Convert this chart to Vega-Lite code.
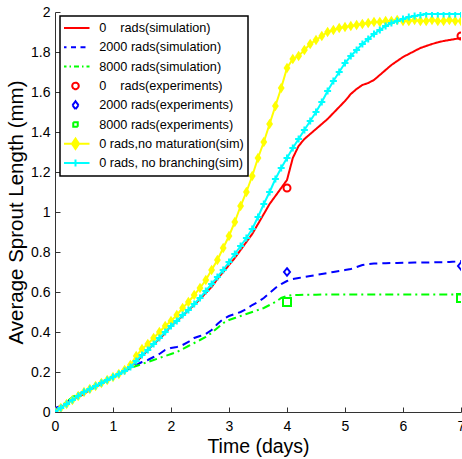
{
  "$schema": "https://vega.github.io/schema/vega-lite/v6.json",
  "width": 406,
  "height": 400,
  "autosize": {"type": "none"},
  "padding": {"left": 55, "top": 12, "right": 1, "bottom": 47},
  "background": "white",
  "config": {
    "view": {"stroke": null},
    "axis": {
      "grid": false,
      "domainColor": "#333333",
      "tickColor": "#333333",
      "labelColor": "#000000",
      "titleColor": "#000000",
      "titleFontWeight": "normal",
      "labelFont": "Liberation Sans Narrow, Liberation Sans",
      "labelFontSize": 14,
      "labelFlush": false,
      "labelOverlap": false,
      "tickSize": -5
    }
  },
  "data": {"values": [
    {"series":"0 rads(simulation)","day":0,"mm":0},{"series":"0 rads(simulation)","day":0.1,"mm":0.02},{"series":"0 rads(simulation)","day":0.2,"mm":0.045},{"series":"0 rads(simulation)","day":0.3,"mm":0.06},{"series":"0 rads(simulation)","day":0.4,"mm":0.075},{"series":"0 rads(simulation)","day":0.5,"mm":0.09},{"series":"0 rads(simulation)","day":0.6,"mm":0.11},{"series":"0 rads(simulation)","day":0.7,"mm":0.125},{"series":"0 rads(simulation)","day":0.8,"mm":0.14},{"series":"0 rads(simulation)","day":0.9,"mm":0.16},{"series":"0 rads(simulation)","day":1,"mm":0.175},
    {"series":"0 rads(simulation)","day":1.1,"mm":0.19},{"series":"0 rads(simulation)","day":1.2,"mm":0.205},{"series":"0 rads(simulation)","day":1.3,"mm":0.225},{"series":"0 rads(simulation)","day":1.4,"mm":0.25},{"series":"0 rads(simulation)","day":1.5,"mm":0.28},{"series":"0 rads(simulation)","day":1.6,"mm":0.31},{"series":"0 rads(simulation)","day":1.7,"mm":0.34},{"series":"0 rads(simulation)","day":1.8,"mm":0.365},{"series":"0 rads(simulation)","day":1.9,"mm":0.395},{"series":"0 rads(simulation)","day":2,"mm":0.43},
    {"series":"0 rads(simulation)","day":2.1,"mm":0.455},{"series":"0 rads(simulation)","day":2.2,"mm":0.48},{"series":"0 rads(simulation)","day":2.3,"mm":0.51},{"series":"0 rads(simulation)","day":2.4,"mm":0.535},{"series":"0 rads(simulation)","day":2.5,"mm":0.565},{"series":"0 rads(simulation)","day":2.6,"mm":0.595},{"series":"0 rads(simulation)","day":2.7,"mm":0.625},{"series":"0 rads(simulation)","day":2.8,"mm":0.665},{"series":"0 rads(simulation)","day":2.9,"mm":0.7},{"series":"0 rads(simulation)","day":3,"mm":0.735},
    {"series":"0 rads(simulation)","day":3.1,"mm":0.77},{"series":"0 rads(simulation)","day":3.2,"mm":0.81},{"series":"0 rads(simulation)","day":3.3,"mm":0.85},{"series":"0 rads(simulation)","day":3.4,"mm":0.89},{"series":"0 rads(simulation)","day":3.5,"mm":0.94},{"series":"0 rads(simulation)","day":3.6,"mm":0.99},{"series":"0 rads(simulation)","day":3.7,"mm":1.04},{"series":"0 rads(simulation)","day":3.8,"mm":1.08},{"series":"0 rads(simulation)","day":3.9,"mm":1.12},{"series":"0 rads(simulation)","day":4,"mm":1.16},
    {"series":"0 rads(simulation)","day":4.1,"mm":1.27},{"series":"0 rads(simulation)","day":4.2,"mm":1.33},{"series":"0 rads(simulation)","day":4.3,"mm":1.365},{"series":"0 rads(simulation)","day":4.4,"mm":1.39},{"series":"0 rads(simulation)","day":4.5,"mm":1.415},{"series":"0 rads(simulation)","day":4.6,"mm":1.44},{"series":"0 rads(simulation)","day":4.7,"mm":1.465},{"series":"0 rads(simulation)","day":4.8,"mm":1.495},{"series":"0 rads(simulation)","day":4.9,"mm":1.525},{"series":"0 rads(simulation)","day":5,"mm":1.555},
    {"series":"0 rads(simulation)","day":5.1,"mm":1.59},{"series":"0 rads(simulation)","day":5.2,"mm":1.615},{"series":"0 rads(simulation)","day":5.3,"mm":1.635},{"series":"0 rads(simulation)","day":5.4,"mm":1.645},{"series":"0 rads(simulation)","day":5.5,"mm":1.66},{"series":"0 rads(simulation)","day":5.6,"mm":1.685},{"series":"0 rads(simulation)","day":5.7,"mm":1.71},{"series":"0 rads(simulation)","day":5.8,"mm":1.735},{"series":"0 rads(simulation)","day":5.9,"mm":1.755},{"series":"0 rads(simulation)","day":6,"mm":1.775},
    {"series":"0 rads(simulation)","day":6.1,"mm":1.79},{"series":"0 rads(simulation)","day":6.2,"mm":1.805},{"series":"0 rads(simulation)","day":6.3,"mm":1.82},{"series":"0 rads(simulation)","day":6.4,"mm":1.83},{"series":"0 rads(simulation)","day":6.5,"mm":1.84},{"series":"0 rads(simulation)","day":6.6,"mm":1.848},{"series":"0 rads(simulation)","day":6.7,"mm":1.855},{"series":"0 rads(simulation)","day":6.8,"mm":1.86},{"series":"0 rads(simulation)","day":6.9,"mm":1.865},{"series":"0 rads(simulation)","day":7,"mm":1.87},

    {"series":"2000 rads(simulation)","day":0,"mm":0.02},{"series":"2000 rads(simulation)","day":0.1,"mm":0.03},{"series":"2000 rads(simulation)","day":0.2,"mm":0.05},{"series":"2000 rads(simulation)","day":0.3,"mm":0.07},{"series":"2000 rads(simulation)","day":0.4,"mm":0.085},{"series":"2000 rads(simulation)","day":0.5,"mm":0.1},{"series":"2000 rads(simulation)","day":0.6,"mm":0.115},{"series":"2000 rads(simulation)","day":0.7,"mm":0.13},{"series":"2000 rads(simulation)","day":0.8,"mm":0.145},{"series":"2000 rads(simulation)","day":0.9,"mm":0.16},{"series":"2000 rads(simulation)","day":1,"mm":0.175},
    {"series":"2000 rads(simulation)","day":1.1,"mm":0.19},{"series":"2000 rads(simulation)","day":1.2,"mm":0.205},{"series":"2000 rads(simulation)","day":1.3,"mm":0.22},{"series":"2000 rads(simulation)","day":1.4,"mm":0.235},{"series":"2000 rads(simulation)","day":1.5,"mm":0.25},{"series":"2000 rads(simulation)","day":1.6,"mm":0.26},{"series":"2000 rads(simulation)","day":1.7,"mm":0.275},{"series":"2000 rads(simulation)","day":1.8,"mm":0.29},{"series":"2000 rads(simulation)","day":1.9,"mm":0.31},{"series":"2000 rads(simulation)","day":2,"mm":0.32},
    {"series":"2000 rads(simulation)","day":2.1,"mm":0.325},{"series":"2000 rads(simulation)","day":2.2,"mm":0.335},{"series":"2000 rads(simulation)","day":2.3,"mm":0.35},{"series":"2000 rads(simulation)","day":2.4,"mm":0.37},{"series":"2000 rads(simulation)","day":2.5,"mm":0.38},{"series":"2000 rads(simulation)","day":2.6,"mm":0.39},{"series":"2000 rads(simulation)","day":2.7,"mm":0.41},{"series":"2000 rads(simulation)","day":2.8,"mm":0.44},{"series":"2000 rads(simulation)","day":2.9,"mm":0.465},{"series":"2000 rads(simulation)","day":3,"mm":0.48},
    {"series":"2000 rads(simulation)","day":3.1,"mm":0.49},{"series":"2000 rads(simulation)","day":3.2,"mm":0.5},{"series":"2000 rads(simulation)","day":3.3,"mm":0.515},{"series":"2000 rads(simulation)","day":3.4,"mm":0.535},{"series":"2000 rads(simulation)","day":3.5,"mm":0.55},{"series":"2000 rads(simulation)","day":3.6,"mm":0.57},{"series":"2000 rads(simulation)","day":3.7,"mm":0.595},{"series":"2000 rads(simulation)","day":3.8,"mm":0.62},{"series":"2000 rads(simulation)","day":3.9,"mm":0.64},{"series":"2000 rads(simulation)","day":4,"mm":0.655},
    {"series":"2000 rads(simulation)","day":4.1,"mm":0.665},{"series":"2000 rads(simulation)","day":4.2,"mm":0.67},{"series":"2000 rads(simulation)","day":4.3,"mm":0.675},{"series":"2000 rads(simulation)","day":4.4,"mm":0.68},{"series":"2000 rads(simulation)","day":4.5,"mm":0.685},{"series":"2000 rads(simulation)","day":4.6,"mm":0.69},{"series":"2000 rads(simulation)","day":4.7,"mm":0.695},{"series":"2000 rads(simulation)","day":4.8,"mm":0.7},{"series":"2000 rads(simulation)","day":4.9,"mm":0.705},{"series":"2000 rads(simulation)","day":5,"mm":0.71},
    {"series":"2000 rads(simulation)","day":5.1,"mm":0.715},{"series":"2000 rads(simulation)","day":5.2,"mm":0.725},{"series":"2000 rads(simulation)","day":5.3,"mm":0.735},{"series":"2000 rads(simulation)","day":5.4,"mm":0.74},{"series":"2000 rads(simulation)","day":5.5,"mm":0.742},{"series":"2000 rads(simulation)","day":5.6,"mm":0.743},{"series":"2000 rads(simulation)","day":5.7,"mm":0.744},{"series":"2000 rads(simulation)","day":5.8,"mm":0.745},{"series":"2000 rads(simulation)","day":5.9,"mm":0.745},{"series":"2000 rads(simulation)","day":6,"mm":0.746},
    {"series":"2000 rads(simulation)","day":6.1,"mm":0.746},{"series":"2000 rads(simulation)","day":6.2,"mm":0.747},{"series":"2000 rads(simulation)","day":6.3,"mm":0.747},{"series":"2000 rads(simulation)","day":6.4,"mm":0.748},{"series":"2000 rads(simulation)","day":6.5,"mm":0.748},{"series":"2000 rads(simulation)","day":6.6,"mm":0.749},{"series":"2000 rads(simulation)","day":6.7,"mm":0.749},{"series":"2000 rads(simulation)","day":6.8,"mm":0.75},{"series":"2000 rads(simulation)","day":6.9,"mm":0.752},{"series":"2000 rads(simulation)","day":7,"mm":0.755},

    {"series":"8000 rads(simulation)","day":0,"mm":0},{"series":"8000 rads(simulation)","day":0.1,"mm":0.03},{"series":"8000 rads(simulation)","day":0.2,"mm":0.05},{"series":"8000 rads(simulation)","day":0.3,"mm":0.075},{"series":"8000 rads(simulation)","day":0.4,"mm":0.09},{"series":"8000 rads(simulation)","day":0.5,"mm":0.1},{"series":"8000 rads(simulation)","day":0.6,"mm":0.115},{"series":"8000 rads(simulation)","day":0.7,"mm":0.13},{"series":"8000 rads(simulation)","day":0.8,"mm":0.145},{"series":"8000 rads(simulation)","day":0.9,"mm":0.16},{"series":"8000 rads(simulation)","day":1,"mm":0.175},
    {"series":"8000 rads(simulation)","day":1.1,"mm":0.19},{"series":"8000 rads(simulation)","day":1.2,"mm":0.205},{"series":"8000 rads(simulation)","day":1.3,"mm":0.22},{"series":"8000 rads(simulation)","day":1.4,"mm":0.23},{"series":"8000 rads(simulation)","day":1.5,"mm":0.24},{"series":"8000 rads(simulation)","day":1.6,"mm":0.25},{"series":"8000 rads(simulation)","day":1.7,"mm":0.26},{"series":"8000 rads(simulation)","day":1.8,"mm":0.27},{"series":"8000 rads(simulation)","day":1.9,"mm":0.28},{"series":"8000 rads(simulation)","day":2,"mm":0.29},
    {"series":"8000 rads(simulation)","day":2.1,"mm":0.3},{"series":"8000 rads(simulation)","day":2.2,"mm":0.315},{"series":"8000 rads(simulation)","day":2.3,"mm":0.33},{"series":"8000 rads(simulation)","day":2.4,"mm":0.345},{"series":"8000 rads(simulation)","day":2.5,"mm":0.36},{"series":"8000 rads(simulation)","day":2.6,"mm":0.375},{"series":"8000 rads(simulation)","day":2.7,"mm":0.395},{"series":"8000 rads(simulation)","day":2.8,"mm":0.42},{"series":"8000 rads(simulation)","day":2.9,"mm":0.445},{"series":"8000 rads(simulation)","day":3,"mm":0.46},
    {"series":"8000 rads(simulation)","day":3.1,"mm":0.47},{"series":"8000 rads(simulation)","day":3.2,"mm":0.48},{"series":"8000 rads(simulation)","day":3.3,"mm":0.49},{"series":"8000 rads(simulation)","day":3.4,"mm":0.5},{"series":"8000 rads(simulation)","day":3.5,"mm":0.51},{"series":"8000 rads(simulation)","day":3.6,"mm":0.52},{"series":"8000 rads(simulation)","day":3.7,"mm":0.535},{"series":"8000 rads(simulation)","day":3.8,"mm":0.55},{"series":"8000 rads(simulation)","day":3.9,"mm":0.57},{"series":"8000 rads(simulation)","day":4,"mm":0.58},
    {"series":"8000 rads(simulation)","day":4.1,"mm":0.585},{"series":"8000 rads(simulation)","day":4.2,"mm":0.585},{"series":"8000 rads(simulation)","day":4.3,"mm":0.586},{"series":"8000 rads(simulation)","day":4.4,"mm":0.586},{"series":"8000 rads(simulation)","day":4.5,"mm":0.586},{"series":"8000 rads(simulation)","day":4.6,"mm":0.587},{"series":"8000 rads(simulation)","day":4.7,"mm":0.587},{"series":"8000 rads(simulation)","day":4.8,"mm":0.587},{"series":"8000 rads(simulation)","day":4.9,"mm":0.587},{"series":"8000 rads(simulation)","day":5,"mm":0.588},
    {"series":"8000 rads(simulation)","day":5.1,"mm":0.588},{"series":"8000 rads(simulation)","day":5.2,"mm":0.588},{"series":"8000 rads(simulation)","day":5.3,"mm":0.588},{"series":"8000 rads(simulation)","day":5.4,"mm":0.588},{"series":"8000 rads(simulation)","day":5.5,"mm":0.588},{"series":"8000 rads(simulation)","day":5.6,"mm":0.588},{"series":"8000 rads(simulation)","day":5.7,"mm":0.588},{"series":"8000 rads(simulation)","day":5.8,"mm":0.588},{"series":"8000 rads(simulation)","day":5.9,"mm":0.588},{"series":"8000 rads(simulation)","day":6,"mm":0.588},
    {"series":"8000 rads(simulation)","day":6.1,"mm":0.588},{"series":"8000 rads(simulation)","day":6.2,"mm":0.588},{"series":"8000 rads(simulation)","day":6.3,"mm":0.588},{"series":"8000 rads(simulation)","day":6.4,"mm":0.588},{"series":"8000 rads(simulation)","day":6.5,"mm":0.588},{"series":"8000 rads(simulation)","day":6.6,"mm":0.588},{"series":"8000 rads(simulation)","day":6.7,"mm":0.588},{"series":"8000 rads(simulation)","day":6.8,"mm":0.588},{"series":"8000 rads(simulation)","day":6.9,"mm":0.588},{"series":"8000 rads(simulation)","day":7,"mm":0.588},

    {"series":"0 rads(experiments)","day":4,"mm":1.12},{"series":"0 rads(experiments)","day":7,"mm":1.88},
    {"series":"2000 rads(experiments)","day":4,"mm":0.7},{"series":"2000 rads(experiments)","day":7,"mm":0.73},
    {"series":"8000 rads(experiments)","day":4,"mm":0.55},{"series":"8000 rads(experiments)","day":7,"mm":0.57},

    {"series":"0 rads,no maturation(sim)","day":0,"mm":0},{"series":"0 rads,no maturation(sim)","day":0.1,"mm":0.02},{"series":"0 rads,no maturation(sim)","day":0.2,"mm":0.04},{"series":"0 rads,no maturation(sim)","day":0.3,"mm":0.06},{"series":"0 rads,no maturation(sim)","day":0.4,"mm":0.08},{"series":"0 rads,no maturation(sim)","day":0.5,"mm":0.1},{"series":"0 rads,no maturation(sim)","day":0.6,"mm":0.115},{"series":"0 rads,no maturation(sim)","day":0.7,"mm":0.13},{"series":"0 rads,no maturation(sim)","day":0.8,"mm":0.145},{"series":"0 rads,no maturation(sim)","day":0.9,"mm":0.16},{"series":"0 rads,no maturation(sim)","day":1,"mm":0.175},
    {"series":"0 rads,no maturation(sim)","day":1.1,"mm":0.19},{"series":"0 rads,no maturation(sim)","day":1.2,"mm":0.21},{"series":"0 rads,no maturation(sim)","day":1.3,"mm":0.235},{"series":"0 rads,no maturation(sim)","day":1.4,"mm":0.28},{"series":"0 rads,no maturation(sim)","day":1.5,"mm":0.315},{"series":"0 rads,no maturation(sim)","day":1.6,"mm":0.34},{"series":"0 rads,no maturation(sim)","day":1.7,"mm":0.37},{"series":"0 rads,no maturation(sim)","day":1.8,"mm":0.4},{"series":"0 rads,no maturation(sim)","day":1.9,"mm":0.43},{"series":"0 rads,no maturation(sim)","day":2,"mm":0.455},
    {"series":"0 rads,no maturation(sim)","day":2.1,"mm":0.485},{"series":"0 rads,no maturation(sim)","day":2.2,"mm":0.52},{"series":"0 rads,no maturation(sim)","day":2.3,"mm":0.55},{"series":"0 rads,no maturation(sim)","day":2.4,"mm":0.585},{"series":"0 rads,no maturation(sim)","day":2.5,"mm":0.62},{"series":"0 rads,no maturation(sim)","day":2.6,"mm":0.66},{"series":"0 rads,no maturation(sim)","day":2.7,"mm":0.71},{"series":"0 rads,no maturation(sim)","day":2.8,"mm":0.76},{"series":"0 rads,no maturation(sim)","day":2.9,"mm":0.82},{"series":"0 rads,no maturation(sim)","day":3,"mm":0.88},
    {"series":"0 rads,no maturation(sim)","day":3.1,"mm":0.95},{"series":"0 rads,no maturation(sim)","day":3.2,"mm":1.03},{"series":"0 rads,no maturation(sim)","day":3.3,"mm":1.1},{"series":"0 rads,no maturation(sim)","day":3.4,"mm":1.18},{"series":"0 rads,no maturation(sim)","day":3.5,"mm":1.27},{"series":"0 rads,no maturation(sim)","day":3.6,"mm":1.35},{"series":"0 rads,no maturation(sim)","day":3.7,"mm":1.44},{"series":"0 rads,no maturation(sim)","day":3.8,"mm":1.53},{"series":"0 rads,no maturation(sim)","day":3.9,"mm":1.62},{"series":"0 rads,no maturation(sim)","day":4,"mm":1.72},
    {"series":"0 rads,no maturation(sim)","day":4.1,"mm":1.765},{"series":"0 rads,no maturation(sim)","day":4.2,"mm":1.78},{"series":"0 rads,no maturation(sim)","day":4.3,"mm":1.81},{"series":"0 rads,no maturation(sim)","day":4.4,"mm":1.84},{"series":"0 rads,no maturation(sim)","day":4.5,"mm":1.86},{"series":"0 rads,no maturation(sim)","day":4.6,"mm":1.88},{"series":"0 rads,no maturation(sim)","day":4.7,"mm":1.9},{"series":"0 rads,no maturation(sim)","day":4.8,"mm":1.91},{"series":"0 rads,no maturation(sim)","day":4.9,"mm":1.92},{"series":"0 rads,no maturation(sim)","day":5,"mm":1.925},
    {"series":"0 rads,no maturation(sim)","day":5.1,"mm":1.93},{"series":"0 rads,no maturation(sim)","day":5.2,"mm":1.935},{"series":"0 rads,no maturation(sim)","day":5.3,"mm":1.94},{"series":"0 rads,no maturation(sim)","day":5.4,"mm":1.945},{"series":"0 rads,no maturation(sim)","day":5.5,"mm":1.95},{"series":"0 rads,no maturation(sim)","day":5.6,"mm":1.95},{"series":"0 rads,no maturation(sim)","day":5.7,"mm":1.955},{"series":"0 rads,no maturation(sim)","day":5.8,"mm":1.955},{"series":"0 rads,no maturation(sim)","day":5.9,"mm":1.96},{"series":"0 rads,no maturation(sim)","day":6,"mm":1.955},
    {"series":"0 rads,no maturation(sim)","day":6.1,"mm":1.955},{"series":"0 rads,no maturation(sim)","day":6.2,"mm":1.96},{"series":"0 rads,no maturation(sim)","day":6.3,"mm":1.955},{"series":"0 rads,no maturation(sim)","day":6.4,"mm":1.955},{"series":"0 rads,no maturation(sim)","day":6.5,"mm":1.96},{"series":"0 rads,no maturation(sim)","day":6.6,"mm":1.955},{"series":"0 rads,no maturation(sim)","day":6.7,"mm":1.955},{"series":"0 rads,no maturation(sim)","day":6.8,"mm":1.96},{"series":"0 rads,no maturation(sim)","day":6.9,"mm":1.955},{"series":"0 rads,no maturation(sim)","day":7,"mm":1.955},

    {"series":"0 rads, no branching(sim)","day":0,"mm":0},{"series":"0 rads, no branching(sim)","day":0.1,"mm":0.02},{"series":"0 rads, no branching(sim)","day":0.2,"mm":0.04},{"series":"0 rads, no branching(sim)","day":0.3,"mm":0.06},{"series":"0 rads, no branching(sim)","day":0.4,"mm":0.08},{"series":"0 rads, no branching(sim)","day":0.5,"mm":0.1},{"series":"0 rads, no branching(sim)","day":0.6,"mm":0.115},{"series":"0 rads, no branching(sim)","day":0.7,"mm":0.13},{"series":"0 rads, no branching(sim)","day":0.8,"mm":0.145},{"series":"0 rads, no branching(sim)","day":0.9,"mm":0.16},{"series":"0 rads, no branching(sim)","day":1,"mm":0.175},
    {"series":"0 rads, no branching(sim)","day":1.1,"mm":0.19},{"series":"0 rads, no branching(sim)","day":1.2,"mm":0.205},{"series":"0 rads, no branching(sim)","day":1.3,"mm":0.225},{"series":"0 rads, no branching(sim)","day":1.4,"mm":0.255},{"series":"0 rads, no branching(sim)","day":1.5,"mm":0.285},{"series":"0 rads, no branching(sim)","day":1.6,"mm":0.31},{"series":"0 rads, no branching(sim)","day":1.7,"mm":0.34},{"series":"0 rads, no branching(sim)","day":1.8,"mm":0.37},{"series":"0 rads, no branching(sim)","day":1.9,"mm":0.4},{"series":"0 rads, no branching(sim)","day":2,"mm":0.43},
    {"series":"0 rads, no branching(sim)","day":2.1,"mm":0.455},{"series":"0 rads, no branching(sim)","day":2.2,"mm":0.485},{"series":"0 rads, no branching(sim)","day":2.3,"mm":0.51},{"series":"0 rads, no branching(sim)","day":2.4,"mm":0.54},{"series":"0 rads, no branching(sim)","day":2.5,"mm":0.57},{"series":"0 rads, no branching(sim)","day":2.6,"mm":0.605},{"series":"0 rads, no branching(sim)","day":2.7,"mm":0.64},{"series":"0 rads, no branching(sim)","day":2.8,"mm":0.675},{"series":"0 rads, no branching(sim)","day":2.9,"mm":0.71},{"series":"0 rads, no branching(sim)","day":3,"mm":0.75},
    {"series":"0 rads, no branching(sim)","day":3.1,"mm":0.79},{"series":"0 rads, no branching(sim)","day":3.2,"mm":0.83},{"series":"0 rads, no branching(sim)","day":3.3,"mm":0.87},{"series":"0 rads, no branching(sim)","day":3.4,"mm":0.915},{"series":"0 rads, no branching(sim)","day":3.5,"mm":0.975},{"series":"0 rads, no branching(sim)","day":3.6,"mm":1.04},{"series":"0 rads, no branching(sim)","day":3.7,"mm":1.1},{"series":"0 rads, no branching(sim)","day":3.8,"mm":1.165},{"series":"0 rads, no branching(sim)","day":3.9,"mm":1.22},{"series":"0 rads, no branching(sim)","day":4,"mm":1.27},
    {"series":"0 rads, no branching(sim)","day":4.1,"mm":1.32},{"series":"0 rads, no branching(sim)","day":4.2,"mm":1.365},{"series":"0 rads, no branching(sim)","day":4.3,"mm":1.41},{"series":"0 rads, no branching(sim)","day":4.4,"mm":1.455},{"series":"0 rads, no branching(sim)","day":4.5,"mm":1.5},{"series":"0 rads, no branching(sim)","day":4.6,"mm":1.55},{"series":"0 rads, no branching(sim)","day":4.7,"mm":1.605},{"series":"0 rads, no branching(sim)","day":4.8,"mm":1.655},{"series":"0 rads, no branching(sim)","day":4.9,"mm":1.7},{"series":"0 rads, no branching(sim)","day":5,"mm":1.745},
    {"series":"0 rads, no branching(sim)","day":5.1,"mm":1.78},{"series":"0 rads, no branching(sim)","day":5.2,"mm":1.81},{"series":"0 rads, no branching(sim)","day":5.3,"mm":1.84},{"series":"0 rads, no branching(sim)","day":5.4,"mm":1.865},{"series":"0 rads, no branching(sim)","day":5.5,"mm":1.89},{"series":"0 rads, no branching(sim)","day":5.6,"mm":1.91},{"series":"0 rads, no branching(sim)","day":5.7,"mm":1.93},{"series":"0 rads, no branching(sim)","day":5.8,"mm":1.945},{"series":"0 rads, no branching(sim)","day":5.9,"mm":1.955},{"series":"0 rads, no branching(sim)","day":6,"mm":1.965},
    {"series":"0 rads, no branching(sim)","day":6.1,"mm":1.975},{"series":"0 rads, no branching(sim)","day":6.2,"mm":1.98},{"series":"0 rads, no branching(sim)","day":6.3,"mm":1.985},{"series":"0 rads, no branching(sim)","day":6.4,"mm":1.99},{"series":"0 rads, no branching(sim)","day":6.5,"mm":1.99},{"series":"0 rads, no branching(sim)","day":6.6,"mm":1.99},{"series":"0 rads, no branching(sim)","day":6.7,"mm":1.99},{"series":"0 rads, no branching(sim)","day":6.8,"mm":1.99},{"series":"0 rads, no branching(sim)","day":6.9,"mm":1.99},{"series":"0 rads, no branching(sim)","day":7,"mm":1.99}
  ]},
  "encoding": {
    "x": {
      "field": "day", "type": "quantitative",
      "scale": {"domain": [0, 7], "nice": false},
      "axis": {
        "title": "Time (days)",
        "values": [0, 1, 2, 3, 4, 5, 6, 7],
        "format": "d",
        "labelPadding": 12.5,
        "titlePadding": 4,
        "titleFont": "Liberation Sans Narrow, Liberation Sans",
        "titleFontSize": 19.5
      }
    },
    "y": {
      "field": "mm", "type": "quantitative",
      "scale": {"domain": [0, 2], "nice": false},
      "axis": {
        "title": "Average Sprout Length (mm)",
        "values": [0, 0.2, 0.4, 0.6, 0.8, 1, 1.2, 1.4, 1.6, 1.8, 2],
        "format": "~g",
        "labelPadding": 10,
        "titlePadding": 4,
        "titleFont": "Liberation Sans",
        "titleFontSize": 20.5
      }
    },
    "color": {
      "field": "series", "type": "nominal",
      "scale": {
        "domain": ["0 rads(simulation)", "2000 rads(simulation)", "8000 rads(simulation)", "0 rads(experiments)", "2000 rads(experiments)", "8000 rads(experiments)", "0 rads,no maturation(sim)", "0 rads, no branching(sim)"],
        "range": ["#ff0000", "#0000ff", "#00ff00", "#ff0000", "#0000ff", "#00ff00", "#ffff00", "#00ffff"]
      },
      "legend": {
        "title": null,
        "orient": "none",
        "legendX": 5,
        "legendY": 4,
        "padding": 4,
        "clipHeight": 16,
        "rowPadding": 3.3,
        "symbolOffset": 5.15,
        "labelOffset": 17.3,
        "labelFont": "Liberation Sans",
        "labelFontSize": 12.7,
        "labelColor": "#000000",
        "labelLimit": 300,
        "strokeColor": "#000000",
        "fillColor": "#ffffff",
        "labelExpr": "datum.value == '0 rads(simulation)' || datum.value == '0 rads(experiments)' ? replace(datum.label, ' ', '\u00a0\u00a0\u00a0\u00a0') : datum.label",
        "encoding": {
          "symbols": {
            "shape": {"value": {"expr": "datum.index <= 2 ? 'M-2.8,0H2.8' : datum.index == 3 ? 'M-0.65,0A0.65,0.65,0,1,0,0.65,0A0.65,0.65,0,1,0,-0.65,0Z' : datum.index == 4 ? 'M0,-0.8L0.6,0L0,0.8L-0.6,0Z' : datum.index == 5 ? 'M-0.45,-0.45H0.45V0.45H-0.45Z' : datum.index == 6 ? 'M-2.8,0H2.8M0,-1.05L0.7,0L0,1.05L-0.7,0Z' : 'M-2.8,0H2.8M-0.7,0H0.7M0,-0.7V0.7'"}},
            "size": {"value": 100},
            "strokeWidth": {"value": 2},
            "stroke": {"value": {"expr": "scale('color', datum.value)"}},
            "fill": {"value": {"expr": "datum.index == 6 ? '#ffff00' : 'transparent'"}},
            "fillOpacity": {"value": {"expr": "datum.index == 6 ? 1 : 0"}},
            "strokeDash": {"value": {"expr": "datum.index == 1 ? [5, 4.5] : datum.index == 2 ? [5, 3, 1.5, 3] : [1, 0]"}},
            "opacity": {"value": 1}
          },
          "legend": {
            "strokeWidth": {"value": 1.5}
          }
        }
      }
    }
  },
  "layer": [
    {
      "transform": [{"filter": {"field": "series", "oneOf": ["0 rads(simulation)", "2000 rads(simulation)", "8000 rads(simulation)"]}}],
      "mark": {"type": "line", "strokeWidth": 2, "clip": true},
      "encoding": {
        "strokeDash": {
          "field": "series", "type": "nominal",
          "scale": {"domain": ["0 rads(simulation)", "2000 rads(simulation)", "8000 rads(simulation)"], "range": [[1, 0], [8, 5], [8, 4, 2, 4]]},
          "legend": null
        }
      }
    },
    {
      "transform": [{"filter": {"field": "series", "oneOf": ["0 rads(experiments)", "2000 rads(experiments)", "8000 rads(experiments)"]}}],
      "mark": {"type": "point", "filled": false, "strokeWidth": 2, "opacity": 1, "clip": true},
      "encoding": {
        "shape": {
          "field": "series", "type": "nominal",
          "scale": {"domain": ["0 rads(experiments)", "2000 rads(experiments)", "8000 rads(experiments)"], "range": ["circle", "M0,-1L0.8,0L0,1L-0.8,0Z", "square"]},
          "legend": null
        },
        "size": {
          "field": "series", "type": "nominal",
          "scale": {"domain": ["0 rads(experiments)", "2000 rads(experiments)", "8000 rads(experiments)"], "range": [49, 64, 16]},
          "legend": null
        }
      }
    },
    {
      "transform": [{"filter": {"field": "series", "equal": "0 rads,no maturation(sim)"}}],
      "mark": {"type": "line", "strokeWidth": 2, "clip": true}
    },
    {
      "transform": [{"filter": {"field": "series", "equal": "0 rads,no maturation(sim)"}}],
      "mark": {"type": "point", "filled": true, "shape": "M0,-1L0.65,0L0,1L-0.65,0Z", "size": 110, "opacity": 1, "clip": true},
      "encoding": {
        "color": {"field": "series", "type": "nominal", "legend": null}
      }
    },
    {
      "transform": [{"filter": {"field": "series", "equal": "0 rads, no branching(sim)"}}],
      "mark": {"type": "line", "strokeWidth": 2, "clip": true}
    },
    {
      "transform": [{"filter": {"field": "series", "equal": "0 rads, no branching(sim)"}}],
      "mark": {"type": "point", "filled": false, "shape": "M-1,0H1M0,-1V1", "size": 49, "strokeWidth": 2, "opacity": 1, "clip": true}
    }
  ]
}
